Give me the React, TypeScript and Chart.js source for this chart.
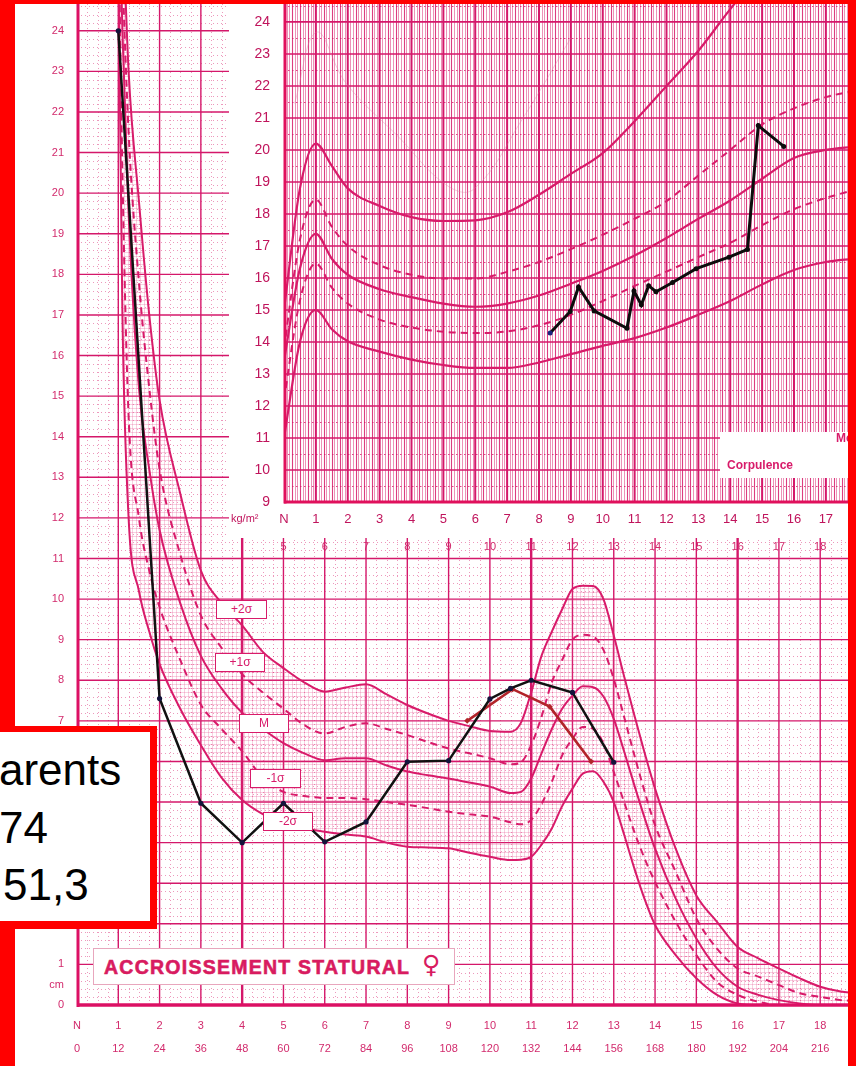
import React, { useEffect, useRef } from 'react';
import { Chart, registerables } from 'chart.js';

Chart.register(...registerables);

// ---------------- Height velocity chart (cm / year) ----------------
const velAges = [1, 1.1, 1.25, 1.5, 1.75, 2, 2.5, 3, 3.5, 4, 4.5, 5, 5.5, 6, 6.5, 7, 7.5, 8, 8.5, 9, 9.5, 10, 10.5, 10.75, 11, 11.25, 11.5, 11.75, 12, 12.25, 12.5, 12.75, 13, 13.25, 13.5, 13.75, 14, 14.5, 15, 15.5, 16, 16.5, 17, 17.5, 18, 18.5, 18.8];
const velMinus2 = [26, 17, 12.0, 10.2, 9.2, 8.4, 7.3, 6.4, 5.6, 5.05, 4.7, 4.47, 4.35, 4.27, 4.2, 4.15, 4.0, 3.9, 3.88, 3.86, 3.75, 3.65, 3.57, 3.58, 3.65, 3.95, 4.35, 4.9, 5.33, 5.7, 5.76, 5.5, 5.0, 4.2, 3.36, 2.6, 1.97, 1.23, 0.66, 0.25, 0.04, 0, 0, 0, 0, 0, 0];
const velMinus1 = [27, 20.5, 14.5, 12.0, 10.7, 9.8, 8.5, 7.4, 6.8, 6.25, 5.6, 5.25, 5.15, 5.1, 5.1, 5.07, 5.0, 4.93, 4.85, 4.76, 4.7, 4.64, 4.5, 4.45, 4.56, 4.95, 5.5, 6.15, 6.56, 6.85, 6.8, 6.45, 5.74, 5.0, 4.26, 3.6, 3.03, 2.05, 1.23, 0.57, 0.25, 0.08, 0, 0, 0, 0, 0];
const velMedian = [28, 24, 19.5, 15.2, 13.2, 11.7, 9.9, 8.6, 7.8, 7.2, 6.8, 6.45, 6.2, 6.03, 6.08, 6.08, 5.9, 5.75, 5.66, 5.58, 5.48, 5.38, 5.22, 5.25, 5.58, 6.2, 6.8, 7.3, 7.62, 7.85, 7.83, 7.6, 7.05, 6.25, 5.41, 4.6, 3.85, 2.62, 1.64, 0.9, 0.45, 0.25, 0.12, 0.04, 0, 0, 0];
const velPlus1 = [29, 25.5, 21.5, 17.8, 15.2, 13.2, 11.1, 9.6, 8.8, 8.15, 7.7, 7.3, 6.9, 6.69, 6.85, 6.94, 6.8, 6.65, 6.48, 6.32, 6.2, 6.08, 5.93, 5.98, 6.4, 7.1, 7.95, 8.5, 9.0, 9.12, 9.08, 8.75, 8.03, 7.1, 6.15, 5.25, 4.43, 3.28, 2.13, 1.39, 0.9, 0.7, 0.49, 0.29, 0.2, 0.12, 0.1];
const velPlus2 = [30, 27, 23, 19.8, 17, 14.9, 12.6, 10.7, 9.9, 9.35, 8.7, 8.3, 7.95, 7.72, 7.82, 7.9, 7.65, 7.39, 7.18, 7.0, 6.87, 6.75, 6.73, 6.95, 7.7, 8.6, 9.2, 9.75, 10.25, 10.33, 10.32, 10.0, 9.1, 8.1, 7.13, 6.2, 5.33, 3.85, 2.7, 2.05, 1.43, 1.15, 0.9, 0.66, 0.45, 0.33, 0.3];
const patientVelAges = [1, 2, 3, 4, 5, 6, 7, 8, 9, 10, 10.5, 11, 12, 13];
const patientVel = [24.0, 7.55, 4.97, 4.0, 4.97, 4.02, 4.51, 5.99, 6.02, 7.54, 7.8, 8.0, 7.7, 5.98];
const secondVelAges = [9.45, 10.55, 11.45, 12.45];
const secondVel = [7.0, 7.78, 7.35, 6.0];
const velXTicks = [0, 1, 2, 3, 4, 5, 6, 7, 8, 9, 10, 11, 12, 13, 14, 15, 16, 17, 18];
const velYearLabels = ['N', '1', '2', '3', '4', '5', '6', '7', '8', '9', '10', '11', '12', '13', '14', '15', '16', '17', '18'];
const velMonthLabels = ['0', '12', '24', '36', '48', '60', '72', '84', '96', '108', '120', '132', '144', '156', '168', '180', '192', '204', '216'];
const velYTicks = [0, 0.5, 1, 2, 3, 4, 5, 6, 7, 8, 9, 10, 11, 12, 13, 14, 15, 16, 17, 18, 19, 20, 21, 22, 23, 24];
const velYLabels = ['0', 'cm', '1', '2', '3', '4', '5', '6', '7', '8', '9', '10', '11', '12', '13', '14', '15', '16', '17', '18', '19', '20', '21', '22', '23', '24'];
const velTopTicks = [5, 6, 7, 8, 9, 10, 11, 12, 13, 14, 15, 16, 17, 18];
const velTopLabels = ['5', '6', '7', '8', '9', '10', '11', '12', '13', '14', '15', '16', '17', '18'];
const sigmaLabels = ['+2σ', '+1σ', 'M', '-1σ', '-2σ'];

// ---------------- Corpulence (BMI) inset ----------------
const bmiAges = [0, 0.5, 1, 1.5, 2, 3, 4, 5, 6, 7, 8, 9, 10, 11, 12, 13, 14, 15, 16, 17, 17.9];
const bmiTop = [15.0, 18.8, 20.2, 19.5, 18.8, 18.25, 17.9, 17.78, 17.8, 18.05, 18.6, 19.25, 19.9, 20.9, 22.0, 23.1, 24.4, 25.6, 26.5, 27.3, 28.0];
const bmiUpperDash = [13.8, 17.2, 18.45, 17.6, 17.0, 16.4, 16.1, 15.98, 15.98, 16.19, 16.5, 16.9, 17.35, 17.85, 18.4, 19.2, 20.0, 20.8, 21.3, 21.65, 21.85];
const bmiMedian = [13.4, 16.3, 17.38, 16.6, 16.1, 15.65, 15.4, 15.2, 15.1, 15.2, 15.45, 15.82, 16.22, 16.7, 17.25, 17.85, 18.42, 19.1, 19.75, 20.0, 20.1];
const bmiLowerDash = [12.2, 15.3, 16.45, 15.7, 15.2, 14.7, 14.45, 14.32, 14.28, 14.33, 14.52, 14.85, 15.28, 15.75, 16.2, 16.65, 17.1, 17.65, 18.15, 18.5, 18.75];
const bmiBottom = [11.0, 14.0, 15.0, 14.4, 14.02, 13.7, 13.45, 13.28, 13.19, 13.19, 13.36, 13.62, 13.88, 14.12, 14.45, 14.85, 15.28, 15.8, 16.25, 16.5, 16.6];
const bmiGhostAges = [0.33, 1.02, 1.95, 3.6, 5.1, 5.95, 7.5, 9.0];
const bmiGhost = [21.45, 23.68, 22.08, 20.4, 18.9, 18.77, 21.0, 23.5];
const patientBmiAges = [8.35, 8.98, 9.24, 9.73, 10.76, 10.98, 11.21, 11.44, 11.67, 12.19, 12.93, 13.96, 14.54, 14.88, 15.68];
const patientBmi = [14.28, 14.95, 15.72, 14.97, 14.43, 15.59, 15.16, 15.76, 15.57, 15.86, 16.29, 16.65, 16.89, 20.76, 20.11];
const bmiXTicks = [0, 1, 2, 3, 4, 5, 6, 7, 8, 9, 10, 11, 12, 13, 14, 15, 16, 17];
const bmiXLabels = ['N', '1', '2', '3', '4', '5', '6', '7', '8', '9', '10', '11', '12', '13', '14', '15', '16', '17'];
const bmiYTicks = [9, 10, 11, 12, 13, 14, 15, 16, 17, 18, 19, 20, 21, 22, 23, 24];

const PINK = '#d81b6a';
const GRIDPINK = '#d4176a';
const TICK = '#d22a6c';
const TICK2 = '#c0145c';
const FONT = "'Liberation Sans', Arial, Helvetica, sans-serif";

const pts = (xs: number[], ys: number[]) => xs.map((x, i) => ({ x, y: ys[i] }));

function seg(ctx: CanvasRenderingContext2D, x1: number, y1: number, x2: number, y2: number) {
  ctx.beginPath();
  ctx.moveTo(x1, y1);
  ctx.lineTo(x2, y2);
  ctx.stroke();
}

const zeroPad = (s: any) => {
  s.paddingTop = 0;
  s.paddingBottom = 0;
  s.paddingLeft = 0;
  s.paddingRight = 0;
};

const mainGridPlugin = {
  id: 'mainGrid',
  beforeDatasetsDraw(chart: any) {
    const { ctx, chartArea: a, scales } = chart;
    const x = scales.x, y = scales.y;
    ctx.save();
    ctx.beginPath();
    ctx.rect(a.left, a.top, a.right - a.left, a.bottom - a.top);
    ctx.clip();
    ctx.lineWidth = 1;
    ctx.strokeStyle = 'rgba(214,26,106,0.45)';
    ctx.setLineDash([1, 3]);
    for (let k = 1; k < 124; k++) {
      if (k % 5 === 0) continue;
      const py = Math.round(y.getPixelForValue(k * 0.2)) + 0.5;
      seg(ctx, a.left, py, a.right, py);
    }
    for (let k = 1; k < 76; k++) {
      if (k % 4 === 0) continue;
      const px = Math.round(x.getPixelForValue(k * 0.25)) + 0.5;
      seg(ctx, px, a.top, px, a.bottom);
    }
    ctx.setLineDash([]);
    ctx.strokeStyle = GRIDPINK;
    ctx.lineWidth = 1.4;
    for (let v = 1; v <= 24; v++) {
      const py = y.getPixelForValue(v);
      seg(ctx, a.left, py, a.right, py);
    }
    for (let v = 1; v <= 18; v++) {
      ctx.lineWidth = v === 4 || v === 11 || v === 16 ? 2.4 : 1.4;
      const px = x.getPixelForValue(v);
      seg(ctx, px, a.top, px, a.bottom);
    }
    ctx.restore();
  },
  afterDatasetsDraw(chart: any) {
    const { ctx, chartArea: a, scales } = chart;
    ctx.save();
    ctx.strokeStyle = '#dc1064';
    ctx.lineWidth = 3;
    seg(ctx, a.left + 1, a.top, a.left + 1, a.bottom + 2);
    ctx.lineWidth = 3.5;
    seg(ctx, a.left, a.bottom, a.right, a.bottom);
    ctx.fillStyle = TICK;
    ctx.font = `11px ${FONT}`;
    ctx.textAlign = 'center';
    ctx.textBaseline = 'middle';
    const ty = scales.y.getPixelForValue(11) - 12;
    velTopTicks.forEach((v, i) => ctx.fillText(velTopLabels[i], scales.x.getPixelForValue(v), ty));
    ctx.restore();
  },
};

const insetGridPlugin = {
  id: 'insetGrid',
  beforeDatasetsDraw(chart: any) {
    const { ctx, chartArea: a, scales } = chart;
    const x = scales.x, y = scales.y;
    ctx.save();
    ctx.beginPath();
    ctx.rect(a.left, a.top, a.right - a.left, a.bottom - a.top);
    ctx.clip();
    for (let k = 1; k < 215; k++) {
      if (k % 12 === 0) continue;
      const px = Math.round(x.getPixelForValue(k / 12)) + 0.5;
      ctx.lineWidth = k % 3 === 0 ? 1.1 : 0.8;
      ctx.strokeStyle = k % 3 === 0 ? 'rgba(214,26,106,0.85)' : 'rgba(214,26,106,0.6)';
      seg(ctx, px, a.top, px, a.bottom);
    }
    ctx.setLineDash([1.5, 2.5]);
    ctx.lineWidth = 1;
    ctx.strokeStyle = 'rgba(214,26,106,0.8)';
    for (let k = 9; k < 25; k++) {
      const py = Math.round(y.getPixelForValue(k + 0.5)) + 0.5;
      seg(ctx, a.left, py, a.right, py);
    }
    ctx.setLineDash([]);
    ctx.strokeStyle = GRIDPINK;
    ctx.lineWidth = 1.6;
    for (let v = 10; v <= 24; v++) {
      const py = y.getPixelForValue(v);
      seg(ctx, a.left, py, a.right, py);
    }
    ctx.lineWidth = 2;
    for (let v = 1; v <= 17; v++) {
      const px = x.getPixelForValue(v);
      seg(ctx, px, a.top, px, a.bottom);
    }
    ctx.restore();
  },
  afterDatasetsDraw(chart: any) {
    const { ctx, chartArea: a } = chart;
    ctx.save();
    ctx.strokeStyle = '#e0105c';
    ctx.lineWidth = 3;
    seg(ctx, a.left + 1, a.top, a.left + 1, a.bottom + 1.5);
    seg(ctx, a.left, a.bottom, a.right, a.bottom);
    ctx.restore();
  },
};

function makeHatch(ctx: CanvasRenderingContext2D) {
  const c = document.createElement('canvas');
  c.width = 4;
  c.height = 4;
  const g = c.getContext('2d')!;
  g.strokeStyle = 'rgba(226,60,130,0.24)';
  g.lineWidth = 1;
  g.beginPath();
  g.moveTo(0.5, 0);
  g.lineTo(0.5, 4);
  g.moveTo(0, 0.5);
  g.lineTo(4, 0.5);
  g.stroke();
  return ctx.createPattern(c, 'repeat');
}

const curve = (label: string, xs: number[], ys: number[], dashed: boolean, width = 2) => ({
  label,
  data: pts(xs, ys),
  borderColor: PINK,
  borderWidth: width,
  borderDash: dashed ? [7, 5] : [],
  pointRadius: 0,
  cubicInterpolationMode: 'monotone' as const,
  fill: false as any,
  order: 3,
});

const sigmaBoxes = [
  { left: 216, top: 600, w: 51 },
  { left: 215, top: 653, w: 50 },
  { left: 239, top: 714, w: 50 },
  { left: 250, top: 769, w: 51 },
  { left: 263, top: 812, w: 50 },
];

export default function App() {
  const mainRef = useRef<HTMLCanvasElement>(null);
  const insetRef = useRef<HTMLCanvasElement>(null);

  useEffect(() => {
    const mc = mainRef.current!;
    const ic = insetRef.current!;
    const hatch = makeHatch(mc.getContext('2d')!);

    const plus2 = curve('+2σ', velAges, velPlus2, false);
    (plus2 as any).fill = 0;
    (plus2 as any).backgroundColor = hatch;

    const main = new Chart(mc, {
      type: 'line',
      data: {
        datasets: [
          curve('-2σ', velAges, velMinus2, false),
          curve('-1σ', velAges, velMinus1, true),
          curve('M', velAges, velMedian, false),
          curve('+1σ', velAges, velPlus1, true),
          plus2 as any,
          {
            label: 'Vitesse',
            data: pts(patientVelAges, patientVel),
            borderColor: '#111111',
            borderWidth: 2.5,
            pointRadius: 2.6,
            pointBackgroundColor: '#14143c',
            pointBorderWidth: 0,
            tension: 0,
            order: 0,
          },
          {
            label: 'Vitesse 2',
            data: pts(secondVelAges, secondVel),
            borderColor: '#b2242a',
            borderWidth: 2.6,
            pointRadius: 3,
            pointStyle: 'rectRot',
            pointBackgroundColor: '#b2242a',
            pointBorderWidth: 0,
            tension: 0,
            order: 1,
          },
        ],
      },
      options: {
        responsive: false,
        animation: false,
        devicePixelRatio: 1,
        layout: { padding: 0 },
        plugins: { legend: { display: false }, tooltip: { enabled: false } },
        scales: {
          x: {
            type: 'linear',
            min: 0,
            max: 18.77,
            grid: { display: false, drawTicks: false },
            border: { display: false },
            afterBuildTicks: (s: any) => {
              s.ticks = velXTicks.map((v) => ({ value: v }));
            },
            afterFit: (s: any) => {
              s.height = 61;
              zeroPad(s);
            },
            ticks: {
              color: TICK,
              font: { family: FONT, size: 11, lineHeight: 2.1 },
              padding: 9,
              maxRotation: 0,
              autoSkip: false,
              callback: (_v: any, i: number) => [velYearLabels[i], velMonthLabels[i]],
            },
          },
          y: {
            type: 'linear',
            min: 0,
            max: 24.66,
            grid: { display: false, drawTicks: false },
            border: { display: false },
            afterBuildTicks: (s: any) => {
              s.ticks = velYTicks.map((v) => ({ value: v }));
            },
            afterFit: (s: any) => {
              s.width = 77;
              zeroPad(s);
            },
            ticks: {
              color: TICK,
              font: { family: FONT, size: 11 },
              padding: 13,
              autoSkip: false,
              callback: (_v: any, i: number) => velYLabels[i],
            },
          },
        },
      },
      plugins: [mainGridPlugin],
    } as any);

    const inset = new Chart(ic, {
      type: 'line',
      data: {
        datasets: [
          {
            label: 'ghost',
            data: pts(bmiGhostAges, bmiGhost),
            borderColor: 'rgba(220,120,160,0.35)',
            borderWidth: 1,
            pointRadius: 0,
            tension: 0.4,
            order: 4,
          },
          curve('97', bmiAges, bmiTop, false, 2.2),
          curve('90', bmiAges, bmiUpperDash, true, 2),
          curve('50', bmiAges, bmiMedian, false, 2.2),
          curve('10', bmiAges, bmiLowerDash, true, 2),
          curve('3', bmiAges, bmiBottom, false, 2.2),
          {
            label: 'IMC',
            data: pts(patientBmiAges, patientBmi),
            borderColor: '#0c0c0c',
            borderWidth: 3,
            pointRadius: 2.5,
            pointBackgroundColor: patientBmiAges.map((_, i) => (i === 0 ? '#1a237e' : '#0c0c0c')),
            pointBorderWidth: 0,
            tension: 0,
            order: 0,
          },
        ],
      },
      options: {
        responsive: false,
        animation: false,
        devicePixelRatio: 1,
        layout: { padding: 0 },
        plugins: { legend: { display: false }, tooltip: { enabled: false } },
        scales: {
          x: {
            type: 'linear',
            min: 0,
            max: 17.82,
            grid: { display: false, drawTicks: false },
            border: { display: false },
            afterBuildTicks: (s: any) => {
              s.ticks = bmiXTicks.map((v) => ({ value: v }));
            },
            afterFit: (s: any) => {
              s.height = 36;
              zeroPad(s);
            },
            ticks: {
              color: TICK2,
              font: { family: FONT, size: 13 },
              padding: 10,
              maxRotation: 0,
              autoSkip: false,
              callback: (_v: any, i: number) => bmiXLabels[i],
            },
          },
          y: {
            type: 'linear',
            min: 9,
            max: 24.56,
            grid: { display: false, drawTicks: false },
            border: { display: false },
            afterBuildTicks: (s: any) => {
              s.ticks = bmiYTicks.map((v) => ({ value: v }));
            },
            afterFit: (s: any) => {
              s.width = 55;
              zeroPad(s);
            },
            ticks: {
              color: TICK2,
              font: { family: FONT, size: 14 },
              padding: 14,
              autoSkip: false,
            },
          },
        },
      },
      plugins: [insetGridPlugin],
    } as any);

    return () => {
      main.destroy();
      inset.destroy();
    };
  }, []);

  const abs = (s: React.CSSProperties): React.CSSProperties => ({ position: 'absolute', ...s });

  return (
    <div style={abs({ left: 0, top: 0, width: 856, height: 1066, overflow: 'hidden', background: '#fff', fontFamily: FONT })}>
      <canvas ref={mainRef} width={856} height={1066} style={abs({ left: 0, top: 0, width: 856, height: 1066 })} />
      <canvas ref={insetRef} width={627} height={538} style={abs({ left: 229, top: 0, width: 627, height: 538, background: '#fff' })} />

      <div style={abs({ left: 231, top: 512, fontSize: 11, color: TICK2, whiteSpace: 'nowrap' })}>
        kg/m²
      </div>
      <div style={abs({ left: 720, top: 432, width: 136, height: 46, background: '#fff' })} />
      <div style={abs({ left: 727, top: 458, fontSize: 12, fontWeight: 'bold', color: PINK, whiteSpace: 'nowrap' })}>
        Corpulence
      </div>
      <div style={abs({ left: 836, top: 431, fontSize: 12, fontWeight: 'bold', color: PINK, whiteSpace: 'nowrap' })}>
        Mé
      </div>

      {sigmaBoxes.map((b, i) => (
        <div
          key={i}
          style={abs({
            left: b.left,
            top: b.top,
            width: b.w,
            height: 19,
            boxSizing: 'border-box',
            border: `1.5px solid ${PINK}`,
            background: '#fff',
            color: PINK,
            fontSize: 12,
            lineHeight: '16px',
            textAlign: 'center',
          })}
        >
          {sigmaLabels[i]}
        </div>
      ))}

      <div
        style={abs({
          left: 93,
          top: 948,
          width: 362,
          height: 37,
          boxSizing: 'border-box',
          border: '1px solid #e8a6bd',
          background: '#fff',
        })}
      />
      <div
        style={abs({
          left: 104,
          top: 955,
          fontSize: 19.5,
          lineHeight: '24px',
          fontWeight: 'bold',
          letterSpacing: 1.25,
          color: '#d81b60',
          WebkitTextStroke: '0.6px #d81b60',
          whiteSpace: 'nowrap',
        })}
      >
        ACCROISSEMENT STATURAL
      </div>
      <div style={abs({ left: 422, top: 950, fontSize: 25, lineHeight: '30px', color: '#d81b60', fontFamily: "'DejaVu Sans', sans-serif" })}>
        ♀
      </div>

      <div style={abs({ left: 0, top: 0, width: 15, height: 1066, background: '#ff0000' })} />
      <div style={abs({ left: 0, top: 0, width: 856, height: 4, background: '#ff0000' })} />
      <div style={abs({ left: 848, top: 0, width: 8, height: 1066, background: '#ff0000' })} />

      <div
        style={abs({
          left: 0,
          top: 726,
          width: 150,
          height: 189,
          background: '#fff',
          borderTop: '6px solid #ff0000',
          borderRight: '7px solid #ff0000',
          borderBottom: '8px solid #ff0000',
          overflow: 'hidden',
        })}
      >
        <div style={abs({ left: -1, top: 16, fontSize: 44, lineHeight: '44px', color: '#000', whiteSpace: 'nowrap' })}>arents</div>
        <div style={abs({ left: -1, top: 74, fontSize: 44, lineHeight: '44px', color: '#000', whiteSpace: 'nowrap' })}>74</div>
        <div style={abs({ left: 3, top: 131, fontSize: 44, lineHeight: '44px', color: '#000', whiteSpace: 'nowrap' })}>51,3</div>
      </div>
    </div>
  );
}
